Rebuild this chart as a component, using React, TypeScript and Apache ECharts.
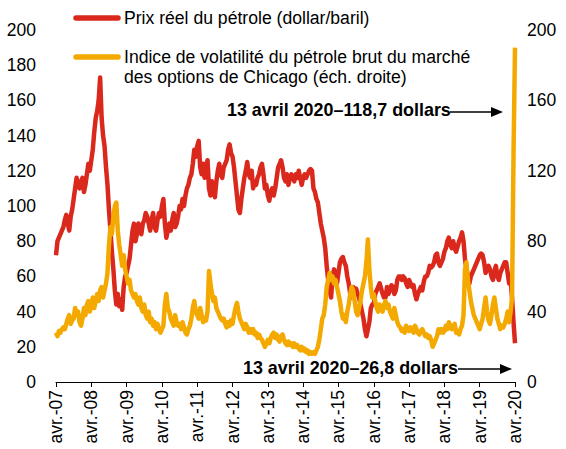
import React, { useEffect, useRef } from "react";
import * as echarts from "echarts";

// Semi-monthly readings (1st and 15th of each month), from 1 April 2007 to 1 April 2020.
// Real oil price (dollar/barrel), left axis.
const oilPrice: number[] = [
  // 2007 (Apr-Dec)
  72, 80, 82, 84, 86, 88, 92, 95, 90, 86, 94, 98, 104, 110, 116, 112, 110, 114,
  // 2008
  116, 108, 112, 118, 124, 120, 126, 132, 142, 150, 154, 160, 173, 150, 140, 134, 122, 112, 98, 86, 74, 64, 52, 44,
  // 2009
  50, 43, 47, 41, 54, 60, 62, 66, 70, 78, 86, 90, 80, 84, 90, 86, 84, 90, 92, 96, 94, 90, 86, 92,
  // 2010
  96, 88, 86, 92, 96, 94, 100, 104, 90, 82, 86, 90, 86, 92, 96, 88, 90, 94, 100, 98, 104, 100, 106, 110,
  // 2011
  112, 116, 118, 124, 132, 128, 134, 137, 122, 118, 124, 116, 122, 126, 110, 106, 114, 110, 105, 114, 120, 124, 118, 116,
  // 2012
  122, 124, 126, 132, 135, 130, 128, 122, 114, 106, 98, 96, 104, 110, 116, 120, 125, 118, 116, 120, 110, 114, 112, 116,
  // 2013
  118, 122, 124, 118, 110, 112, 106, 103, 108, 110, 106, 110, 116, 122, 124, 126, 122, 116, 114, 118, 112, 116, 118, 116,
  // 2014
  114, 118, 116, 120, 116, 112, 116, 118, 116, 118, 120, 121, 120, 110, 108, 104, 102, 96, 90, 86, 82, 76, 66, 58,
  // 2015
  52, 48, 60, 64, 62, 56, 62, 68, 70, 71, 68, 66, 60, 56, 50, 48, 54, 52, 53, 50, 48, 44, 40, 36,
  // 2016
  30, 26, 30, 34, 42, 44, 44, 50, 52, 54, 56, 53, 50, 48, 48, 54, 50, 52, 55, 54, 50, 52, 58, 60,
  // 2017
  60, 58, 60, 59, 56, 54, 58, 56, 54, 55, 50, 47, 50, 52, 54, 52, 57, 60, 60, 62, 66, 65, 66, 68,
  // 2018
  72, 73, 68, 66, 68, 70, 74, 76, 80, 82, 78, 76, 80, 76, 74, 77, 80, 82, 85, 80, 70, 64, 60, 56,
  // 2019
  60, 62, 64, 66, 68, 70, 72, 73, 72, 68, 62, 64, 66, 64, 60, 58, 63, 66, 60, 58, 62, 64, 66, 68,
  // 2020 (Jan-Apr)
  68, 62, 56, 58, 48, 34, 22,
];

// Chicago options market crude oil volatility index, right axis.
const volIndex: number[] = [
  // 2007 (Apr-Dec)
  28, 26, 29, 28, 30, 31, 30, 33, 36, 38, 33, 35, 36, 42, 38, 40, 34, 32,
  // 2008
  36, 42, 38, 44, 46, 40, 44, 48, 42, 46, 50, 46, 52, 54, 48, 52, 56, 62, 78, 88, 84, 94, 100, 102,
  // 2009
  86, 78, 72, 66, 72, 64, 60, 56, 58, 52, 50, 48, 50, 46, 44, 48, 42, 40, 44, 38, 36, 40, 34, 36,
  // 2010
  32, 34, 30, 33, 30, 28, 30, 32, 44, 50, 42, 40, 36, 34, 32, 38, 34, 32, 33, 30, 34, 31, 28, 27,
  // 2011
  30, 32, 36, 42, 46, 40, 38, 36, 42, 38, 34, 36, 35, 40, 63, 56, 50, 46, 48, 42, 40, 38, 36, 35,
  // 2012
  36, 33, 31, 34, 32, 35, 33, 38, 42, 45, 40, 36, 34, 32, 30, 33, 31, 28, 30, 28, 30, 27, 28, 25,
  // 2013
  27, 25, 24, 22, 20, 22, 24, 22, 25, 27, 28, 25, 27, 24, 23, 26, 27, 24, 22, 21, 23, 21, 22, 20,
  // 2014
  22, 20, 21, 19, 18, 20, 18, 19, 17, 18, 16, 17, 16, 17, 16, 18, 20, 24, 30, 36, 38, 44, 54, 58,
  // 2015
  62, 58, 60, 56, 58, 54, 50, 46, 40, 36, 38, 34, 40, 44, 50, 54, 52, 46, 40, 38, 42, 46, 52, 56,
  // 2016
  60, 68, 81, 64, 54, 48, 50, 46, 42, 40, 44, 42, 40, 44, 46, 42, 44, 40, 38, 36, 42, 38, 34, 32,
  // 2017
  31, 29, 30, 28, 32, 30, 29, 31, 30, 28, 32, 30, 28, 27, 29, 30, 28, 26, 27, 25, 26, 24, 20, 22,
  // 2018
  24, 26, 30, 28, 30, 28, 29, 32, 30, 34, 32, 30, 31, 33, 28, 29, 27, 30, 32, 38, 64, 68, 58, 52,
  // 2019
  46, 42, 38, 36, 34, 32, 30, 33, 36, 42, 48, 40, 35, 33, 38, 44, 48, 42, 36, 33, 30, 32, 31, 33,
  // 2020 (Jan-Apr)
  36, 40, 34, 40, 48, 130, 190,
];

const seriesNames = [
  "Prix réel du pétrole (dollar/baril)",
  "Indice de volatilité du pétrole brut du marché\ndes options de Chicago (éch. droite)",
];
const annotations = [
  "13 avril 2020–118,7 dollars",
  "13 avril 2020–26,8 dollars",
];
const firstYear = 7; // avr.-07
const RED = "#DA291C";
const ORANGE = "#F4A900";
const FONT = '"Liberation Sans", Arial, sans-serif';

export default function App() {
  const ref = useRef<HTMLDivElement>(null);
  useEffect(() => {
    document.body.style.margin = "0";
    if (!ref.current) return;
    const chart = echarts.init(ref.current, undefined, { renderer: "svg" });
    // x value = months elapsed since April 2007 (half-month steps)
    const redData = oilPrice.map((v, i) => [i / 2, v]);
    const orangeData = volIndex.map((v, i) => [i / 2, v]);
    const lastX = (oilPrice.length - 1) / 2;

    chart.setOption({
      animation: false,
      backgroundColor: "#fff",
      textStyle: { fontFamily: FONT },
      grid: { left: 56, right: 51, top: 30, bottom: 67, containLabel: false },
      xAxis: {
        type: "value",
        min: 0,
        max: lastX,
        interval: 12,
        axisLine: { show: true, lineStyle: { color: "#000", width: 1 } },
        axisTick: { show: true, length: 5, lineStyle: { color: "#000" } },
        splitLine: { show: false },
        axisLabel: {
          rotate: 90,
          margin: 8,
          fontSize: 17.5,
          color: "#000",
          fontFamily: FONT,
          formatter: (v: number) =>
            "avr.-" + String(firstYear + Math.round(v / 12)).padStart(2, "0"),
        },
      },
      yAxis: [
        {
          type: "value",
          min: 0,
          max: 200,
          interval: 20,
          position: "left",
          axisLine: { show: false },
          axisTick: { show: false },
          splitLine: { show: false },
          axisLabel: { fontSize: 17.5, color: "#000", margin: 20, fontFamily: FONT },
        },
        {
          type: "value",
          min: 0,
          max: 200,
          interval: 40,
          position: "right",
          axisLine: { show: false },
          axisTick: { show: false },
          splitLine: { show: false },
          axisLabel: { fontSize: 17.5, color: "#000", margin: 12, fontFamily: FONT },
        },
      ],
      series: [
        {
          name: seriesNames[0],
          type: "line",
          yAxisIndex: 0,
          data: redData,
          showSymbol: false,
          symbol: "none",
          lineStyle: { color: RED, width: 4.5, join: "round" },
          itemStyle: { color: RED },
          z: 2,
        },
        {
          name: seriesNames[1],
          type: "line",
          yAxisIndex: 1,
          data: orangeData,
          showSymbol: false,
          symbol: "none",
          lineStyle: { color: ORANGE, width: 4.5, join: "round" },
          itemStyle: { color: ORANGE },
          z: 3,
        },
      ],
      graphic: [
        {
          type: "line",
          shape: { x1: 76, y1: 18, x2: 118, y2: 18 },
          style: { stroke: RED, lineWidth: 5.5, lineCap: "round" },
        },
        {
          type: "text",
          x: 124,
          y: 8,
          style: {
            text: seriesNames[0],
            font: `17.6px ${FONT}`,
            fill: "#000",
            verticalAlign: "top",
            lineHeight: 20,
          },
        },
        {
          type: "line",
          shape: { x1: 76, y1: 57, x2: 118, y2: 57 },
          style: { stroke: ORANGE, lineWidth: 5.5, lineCap: "round" },
        },
        {
          type: "text",
          x: 124,
          y: 47,
          style: {
            text: seriesNames[1],
            font: `17.6px ${FONT}`,
            fill: "#000",
            verticalAlign: "top",
            lineHeight: 20,
          },
        },
        {
          type: "text",
          x: 227,
          y: 100,
          style: {
            text: annotations[0],
            font: `bold 17.9px ${FONT}`,
            fill: "#000",
            verticalAlign: "top",
            lineHeight: 20,
          },
        },
        {
          type: "line",
          shape: { x1: 450, y1: 112, x2: 494, y2: 112 },
          style: { stroke: "#000", lineWidth: 1.3 },
        },
        {
          type: "polygon",
          shape: { points: [[491, 107], [503, 112], [491, 117]] },
          style: { fill: "#000" },
        },
        {
          type: "text",
          x: 243,
          y: 358,
          style: {
            text: annotations[1],
            font: `bold 17.9px ${FONT}`,
            fill: "#000",
            verticalAlign: "top",
            lineHeight: 20,
          },
        },
        {
          type: "line",
          shape: { x1: 458, y1: 369, x2: 503, y2: 369 },
          style: { stroke: "#000", lineWidth: 1.3 },
        },
        {
          type: "polygon",
          shape: { points: [[500, 364], [512, 369], [500, 374]] },
          style: { fill: "#000" },
        },
      ],
    });
    return () => chart.dispose();
  }, []);
  return <div ref={ref} style={{ width: 566, height: 449 }} />;
}
